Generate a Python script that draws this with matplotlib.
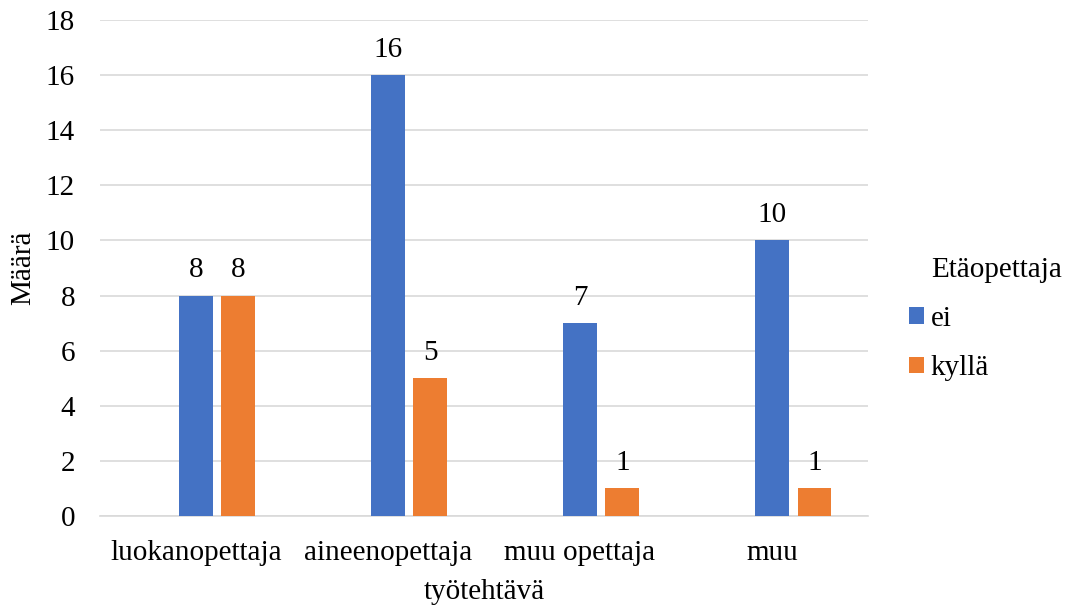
import matplotlib.pyplot as plt
import numpy as np

plt.rcParams['font.family'] = ['Liberation Serif', 'DejaVu Serif']

categories = ['luokanopettaja', 'aineenopettaja', 'muu opettaja', 'muu']
ei = [8, 16, 7, 10]
kylla = [8, 5, 1, 1]
series_names = ['ei', 'kyllä']
colors = ['#4472C4', '#ED7D31']

fs = 21

fig = plt.figure(figsize=(10.77, 6.08), dpi=100)
ax = fig.add_axes([0.0929, 0.1513, 0.7131, 0.8158])

x = np.arange(len(categories))
width = 0.177
step = 0.221

# Excel layout has an empty first series, so "ei" sits in the middle slot
for i, (vals, name, col) in enumerate(zip([ei, kylla], series_names, colors)):
    pos = x + i * step
    bars = ax.bar(pos, vals, width, color=col, label=name, zorder=3)
    for b, v in zip(bars, vals):
        ax.text(b.get_x() + b.get_width() / 2, v + 0.45, str(v),
                ha='center', va='bottom', fontsize=fs)

ax.set_xlim(-0.5, len(categories) - 0.5)
ax.set_ylim(0, 18)
ax.set_yticks(range(0, 19, 2))
ax.set_xticks(x)
ax.set_xticklabels(categories)
ax.tick_params(axis='both', length=0, labelsize=fs)
ax.tick_params(axis='y', pad=18)
ax.tick_params(axis='x', pad=17.5)
ax.grid(axis='y', color='#D9D9D9', linewidth=1.2, zorder=0)
for s in ['top', 'right', 'left']:
    ax.spines[s].set_visible(False)
ax.spines['bottom'].set_color('#D9D9D9')
ax.spines['bottom'].set_linewidth(1.2)

ax.set_xlabel('työtehtävä', fontsize=fs, labelpad=9)
ax.set_ylabel('Määrä', fontsize=fs, labelpad=7)

fig.text(0.8645, 0.556, 'Etäopettaja', fontsize=fs, ha='left', va='center')
fig.legend(loc='upper left', bbox_to_anchor=(0.82, 0.54), frameon=False,
           fontsize=fs, handlelength=0.5, handleheight=0.5,
           handletextpad=0.22, labelspacing=0.8)

fig.savefig('out.png', dpi=100)
